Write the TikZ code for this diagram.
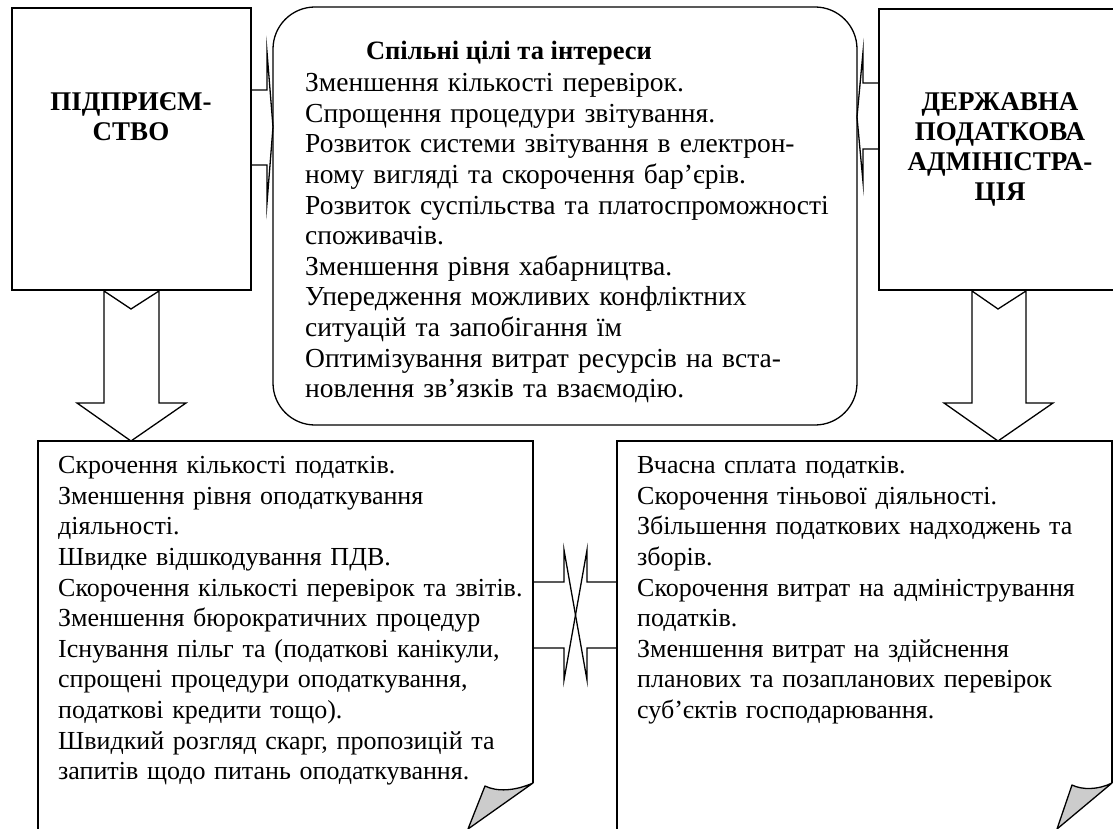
\documentclass[tikz,border=0pt]{standalone}
\usepackage{fontspec}
\setmainfont{Liberation Serif}
\begin{document}
\begin{tikzpicture}[x=1pt,y=-1pt,
  ln/.style={line width=1.3pt, line join=miter, miter limit=30},
  body/.style={font=\fontsize{26}{30.6}\selectfont, inner sep=0pt, align=left, text width=600pt, anchor=north west},
  cbody/.style={body, font=\fontsize{27.5}{30.6}\selectfont},
  headc/.style={font=\bfseries\fontsize{27}{30}\selectfont, inner sep=0pt, align=center, anchor=north},
  foldfill/.style={ln, fill=black!20, line join=round}]
\useasboundingbox (0,0) rectangle (1113,829);
% boxes
\draw[ln] (12,8) rectangle (251,290);
\draw[ln] (879,9) rectangle (1135,290);
\draw[ln, rounded corners=42pt] (273,7) rectangle (857,425);
\draw[ln] (38,845) -- (38,441) -- (533,441) -- (533,783);
\draw[ln] (617,845) -- (617,441) -- (1112,441) -- (1112,783);
% folded corners
\draw[foldfill] (533,783) .. controls (515,791) and (497,792) .. (485,786) -- (468,829) -- cycle;
\draw[foldfill] (1112,783) .. controls (1098,790) and (1082,790) .. (1072,785) -- (1057,829) -- cycle;
% side arrows into centre box
\draw[ln] (251,90) -- (267,90) -- (267,52) -- (273,127) -- (267,203) -- (267,165) -- (251,165);
\draw[ln] (879,83) -- (863,83) -- (863,52) -- (857,117) -- (863,182) -- (863,149) -- (879,149);
% down arrows
\draw[ln] (104,291) -- (104,403) -- (77,403) -- (131,441) -- (186,403) -- (159,403) -- (159,291) -- (131,309) -- cycle;
\draw[ln] (972,291) -- (972,403) -- (944,403) -- (998,441) -- (1053,403) -- (1026,403) -- (1026,291) -- (998,309) -- cycle;
% double arrow between bottom boxes
\draw[ln] (533,582) -- (564,582) -- (564,550) -- (587,680) -- (587,648) -- (617,648);
\draw[ln] (617,582) -- (587,582) -- (587,550) -- (564,680) -- (564,648) -- (533,648);
% texts
\node[headc] (firm) at (131,89) {\strut ПІДПРИЄМ-\\СТВО};
\node[headc] (dpa) at (1000,89) {\strut ДЕРЖАВНА\\ПОДАТКОВА\\АДМІНІСТРА-\\ЦІЯ};
\node[font=\bfseries\fontsize{26.5}{30}\selectfont, inner sep=0pt, anchor=base] (goalh) at (509,60) {Спільні цілі та інтереси};
\node[cbody] (goals) at (305,70) {\strut Зменшення кількості перевірок.\\
Спрощення процедури звітування.\\
Розвиток системи звітування в електрон-\\
ному вигляді та скорочення бар’єрів.\\
Розвиток суспільства та платоспроможності\\
споживачів.\\
Зменшення рівня хабарництва.\\
Упередження можливих конфліктних\\
ситуацій та запобігання їм\\
Оптимізування витрат ресурсів на вста-\\
новлення зв’язків та взаємодію.};
\node[body] (firmgoals) at (58,452) {\strut Скрочення кількості податків.\\
Зменшення рівня оподаткування\\
діяльності.\\
Швидке відшкодування ПДВ.\\
Скорочення кількості перевірок та звітів.\\
Зменшення бюрократичних процедур\\
Існування пільг та (податкові канікули,\\
спрощені процедури оподаткування,\\
податкові кредити тощо).\\
Швидкий розгляд скарг, пропозицій та\\
запитів щодо питань оподаткування.};
\node[body] (dpagoals) at (637,452) {\strut Вчасна сплата податків.\\
Скорочення тіньової діяльності.\\
Збільшення податкових надходжень та\\
зборів.\\
Скорочення витрат на адміністрування\\
податків.\\
Зменшення витрат на здійснення\\
планових та позапланових перевірок\\
суб’єктів господарювання.};
\end{tikzpicture}
\end{document}
